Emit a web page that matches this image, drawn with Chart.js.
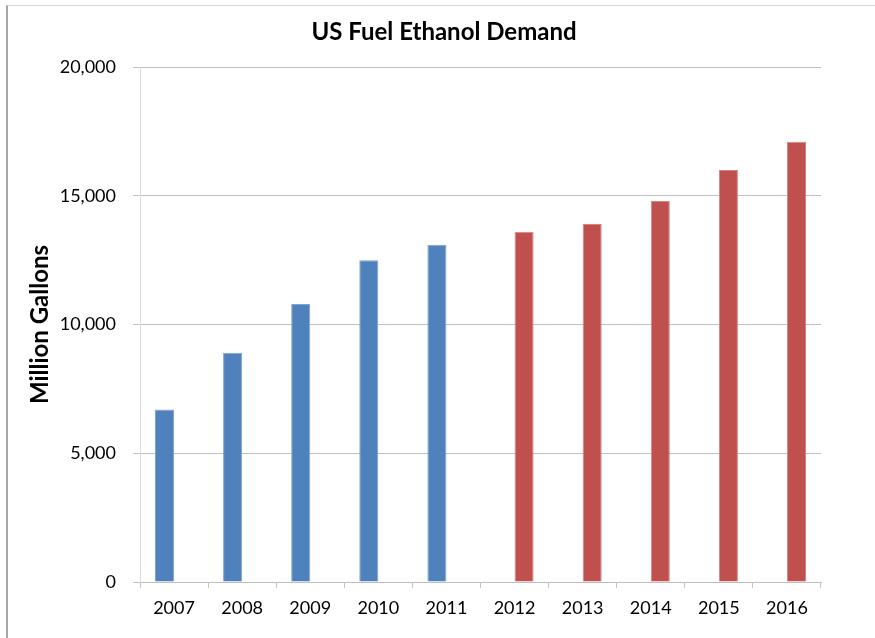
<!DOCTYPE html>
<html>
<head>
<meta charset="utf-8">
<title>US Fuel Ethanol Demand</title>
<script src="https://cdn.jsdelivr.net/npm/chart.js@4"></script>
<style>
    html, body { margin: 0; padding: 0; background: #fff; }
    #wrap { position: relative; width: 875px; height: 638px; overflow: hidden; }
    #frame {
        position: absolute; left: 6px; top: 5px; width: 900px; height: 700px;
        border-left: 2px solid #a6a6a6; border-top: 1px solid #d6d6d6;
    }
    canvas { position: absolute; left: 0; top: 0; }
</style>
</head>
<body>
<div id="wrap">
    <div id="frame"></div>
    <canvas id="chart" width="875" height="638"></canvas>
</div>
<script>
const years = ['2007', '2008', '2009', '2010', '2011', '2012', '2013', '2014', '2015', '2016'];
// million gallons
const actual    = [6700, 8900, 10800, 12500, 13100, null, null, null, null, null];
const projected = [null, null, null, null, null, 13600, 13900, 14800, 16000, 17100];
const yTicks = [0, 5000, 10000, 15000, 20000];

const chartTitle = 'US Fuel Ethanol Demand';
const fontFamily = 'Lato, "Liberation Sans", sans-serif';

// title is drawn by hand so it sits where the original has it (not centred on plot)
const titlePlugin = {
    id: 'handTitle',
    afterDraw(chart) {
        const ctx = chart.ctx;
        ctx.save();
        ctx.font = 'bold 24px ' + fontFamily;
        ctx.fillStyle = '#000';
        ctx.textAlign = 'center';
        ctx.textBaseline = 'middle';
        ctx.fillText(chartTitle, 444, 32);
        ctx.restore();
    }
};

const ctx = document.getElementById('chart').getContext('2d');
new Chart(ctx, {
    type: 'bar',
    data: {
        labels: years,
        datasets: [
            {
                label: 'Actual',
                data: actual,
                backgroundColor: '#4F81BD',
                borderColor: '#7FA3D1',
                borderWidth: 1
            },
            {
                label: 'Projected',
                data: projected,
                backgroundColor: '#C0504D',
                borderColor: '#D58583',
                borderWidth: 1
            }
        ]
    },
    options: {
        responsive: false,
        animation: false,
        layout: { padding: { left: 8, right: 54, top: 67, bottom: 0 } },
        categoryPercentage: 0.56,
        barPercentage: 1,
        scales: {
            x: {
                afterFit(scale) { scale.height = 56; },
                grid: {
                    offset: true,
                    drawOnChartArea: false,
                    drawTicks: true,
                    tickLength: 6,
                    color: '#c4c4c4'
                },
                border: { color: '#bdbdbd' },
                ticks: {
                    color: '#000',
                    padding: 9,
                    font: { family: fontFamily, size: 18 }
                }
            },
            y: {
                min: 0,
                max: 20000,
                afterFit(scale) { scale.width = 132; },
                afterBuildTicks(scale) { scale.ticks = yTicks.map(v => ({ value: v })); },
                grid: {
                    color: '#c0c0c0',
                    tickLength: 7
                },
                border: { color: '#dcdcdc' },
                ticks: {
                    color: '#000',
                    padding: 17,
                    font: { family: fontFamily, size: 18 },
                    callback: v => v.toLocaleString('en-US')
                },
                title: {
                    display: true,
                    text: 'Million Gallons',
                    color: '#000',
                    padding: { top: 18, bottom: 0 },
                    font: { family: fontFamily, size: 24, weight: 'bold' }
                }
            }
        },
        plugins: {
            legend: { display: false },
            tooltip: { enabled: false },
            title: { display: false }
        }
    },
    plugins: [titlePlugin]
});
</script>
</body>
</html>
